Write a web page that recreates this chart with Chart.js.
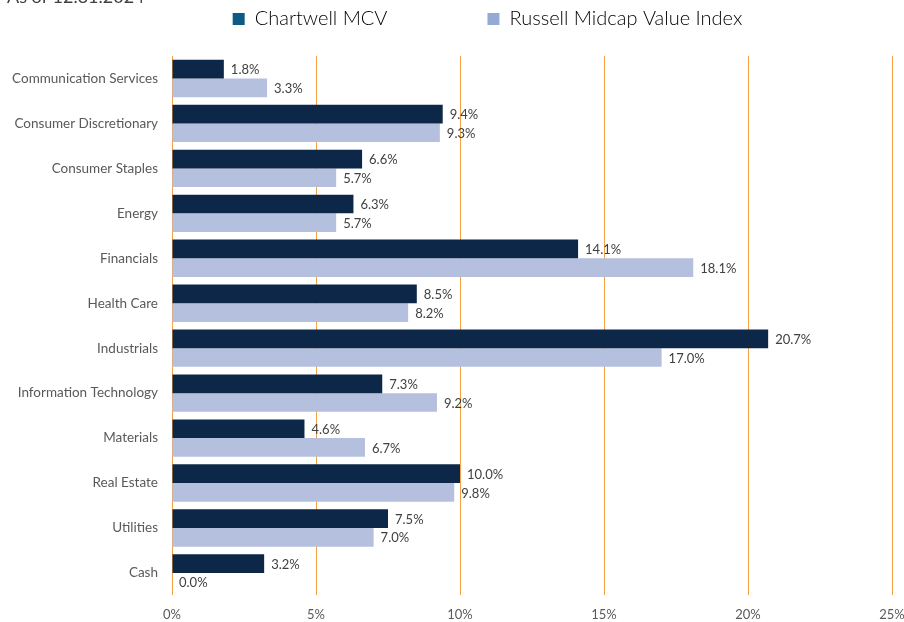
<!DOCTYPE html>
<html>
<head>
<meta charset="utf-8">
<script src="https://cdn.jsdelivr.net/npm/chart.js@4/dist/chart.umd.min.js"></script>
<style>
    html, body { margin: 0; padding: 0; background: #fff; overflow: hidden; }
    #wrap { position: absolute; left: 0; top: -20px; width: 904px; height: 655px; }
</style>
</head>
<body>
<div id="wrap"><canvas id="sectorChart" width="904" height="655"></canvas></div>
<script>
const sectors = ['Communication Services', 'Consumer Discretionary', 'Consumer Staples', 'Energy',
    'Financials', 'Health Care', 'Industrials', 'Information Technology', 'Materials',
    'Real Estate', 'Utilities', 'Cash'];
const chartwellMcv = [1.8, 9.4, 6.6, 6.3, 14.1, 8.5, 20.7, 7.3, 4.6, 10.0, 7.5, 3.2];
const russellMidcapValue = [3.3, 9.3, 5.7, 5.7, 18.1, 8.2, 17.0, 9.2, 6.7, 9.8, 7.0, 0.0];
const xTicks = [0, 5, 10, 15, 20, 25];

const legendGap = 100;

// built-in legend, but with a wide gap between entries and tucked right under the date line
const legendNudge = {
    id: 'legendNudge',
    afterInit(chart) {
        const legend = chart.legend;
        const fit = legend.fit;
        legend.fit = function () {
            fit.call(this);
            this.height = 44.4;
        };
    },
    afterLayout(chart) {
        const lg = chart.legend;
        // only move the top edge, the legend clips to its own box
        lg.top -= lg.top + legendGap + 10 - 39;
        lg.left += 38;
        lg.right += 38;
    }
};

// value labels at the end of each bar
const barValues = {
    id: 'barValues',
    afterDatasetsDraw(chart) {
        const ctx = chart.ctx;
        ctx.save();
        ctx.font = '13px Lato';
        ctx.fillStyle = '#404040';
        ctx.textAlign = 'left';
        ctx.textBaseline = 'middle';
        chart.data.datasets.forEach((ds, i) => {
            chart.getDatasetMeta(i).data.forEach((bar, j) => {
                ctx.fillText(ds.data[j].toFixed(1) + '%', bar.x + 7, bar.y + 1);
            });
        });
        ctx.restore();
    }
};

function initChart() {
    const ctx = document.getElementById('sectorChart').getContext('2d');
    new Chart(ctx, {
        type: 'bar',
        data: {
            labels: sectors,
            datasets: [{
                label: 'Chartwell MCV',
                data: chartwellMcv,
                backgroundColor: '#0c2747',
                legendColor: '#0e5a86',
                borderWidth: 0
            }, {
                label: 'Russell Midcap Value Index',
                data: russellMidcapValue,
                backgroundColor: '#b5c0df',
                legendColor: '#95a9d6',
                borderWidth: 0
            }]
        },
        options: {
            indexAxis: 'y',
            responsive: false,
            animation: false,
            devicePixelRatio: 1,
            layout: { padding: { left: 7, right: 12, top: 0, bottom: 0 } },
            datasets: {
                bar: { categoryPercentage: 0.83, barPercentage: 1 }
            },
            scales: {
                x: {
                    min: 0,
                    max: 25,
                    afterBuildTicks: scale => { scale.ticks = xTicks.map(v => ({ value: v })); },
                    afterFit: scale => { scale.paddingRight = 0; },
                    grid: { color: '#f5a245', lineWidth: 1, drawTicks: false },
                    border: { display: false },
                    ticks: {
                        padding: 12,
                        color: '#595959',
                        font: { family: 'Lato', size: 13 },
                        callback: v => v + '%'
                    }
                },
                y: {
                    grid: { display: false, drawTicks: false },
                    border: { display: false },
                    afterFit: scale => { scale.width = 165; },
                    ticks: {
                        padding: 14,
                        color: '#595959',
                        font: { family: 'Lato', size: 13.5 }
                    }
                }
            },
            plugins: {
                title: {
                    display: true,
                    text: 'As of 12.31.2024',
                    align: 'start',
                    color: '#404040',
                    font: { family: 'Lato', size: 18, weight: 'normal' },
                    padding: { top: 6, bottom: 4 }
                },
                legend: {
                    position: 'top',
                    labels: {
                        boxWidth: 12,
                        boxHeight: 12,
                        padding: legendGap,
                        color: '#404040',
                        font: { family: 'Lato', size: 20, weight: '300' },
                        generateLabels: chart => chart.data.datasets.map((ds, i) => ({
                            text: ds.label,
                            fillStyle: ds.legendColor,
                            strokeStyle: ds.legendColor,
                            lineWidth: 0,
                            datasetIndex: i
                        }))
                    }
                },
                tooltip: { enabled: false }
            }
        },
        plugins: [legendNudge, barValues]
    });
}

document.addEventListener('DOMContentLoaded', initChart);
</script>
</body>
</html>
